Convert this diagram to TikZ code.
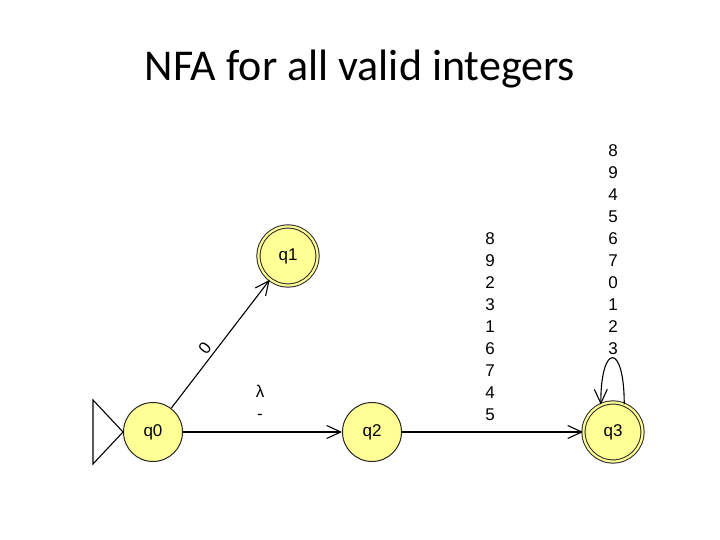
\documentclass[tikz,border=0pt]{standalone}
\usepackage{fontspec}
\setmainfont{Liberation Sans}
\newfontfamily\titlefont{Carlito}
\usetikzlibrary{arrows.meta}
\definecolor{statefill}{RGB}{255,255,150}
\tikzset{
  state/.style={circle, draw=black!85, line width=1pt, fill=statefill, minimum size=59pt, inner sep=0pt, font=\fontsize{17}{20}\selectfont},
  final/.style={state, double=statefill, double distance=2.2pt},
  trans/.style={line width=1.1pt, -{Straight Barb[length=14pt,width=13pt,line width=1.1pt]}},
  lbl/.style={align=center, font=\fontsize{17}{22}\selectfont}
}
\begin{document}
\begin{tikzpicture}[x=1pt, y=1pt]
\useasboundingbox (0,0) rectangle (720,540);
\node[font=\titlefont\fontsize{44}{48}\selectfont] (title) at (360,471){NFA for all valid integers};
\node[state] (q0) at (153,108){q0};
\node[final] (q1) at (288,284){q1};
\node[state] (q2) at (372,108){q2};
\node[final] (q3) at (613,108){q3};
% start marker
\coordinate (s1) at (93,140);
\coordinate (s2) at (93,76);
\draw[line width=1.1pt] (s1) -- (q0.west) -- (s2) -- cycle;
% transitions
\draw[trans] (q0) -- node[pos=0.42, sloped, above, font=\fontsize{17}{20}\selectfont]{0} (q1);
\draw[trans] (q0) -- (q2);
\node[lbl] (l02) at (260,138){λ\\-};
\draw[trans] (q2) -- (q3);
\node[lbl] (l23) at (490,213){8\\9\\2\\3\\1\\6\\7\\4\\5};
\draw[trans] (q3.68) .. controls +(0,62) and +(0,62) .. (q3.114);
\node[lbl] (l33) at (613,290){8\\9\\4\\5\\6\\7\\0\\1\\2\\3};
\end{tikzpicture}
\end{document}
